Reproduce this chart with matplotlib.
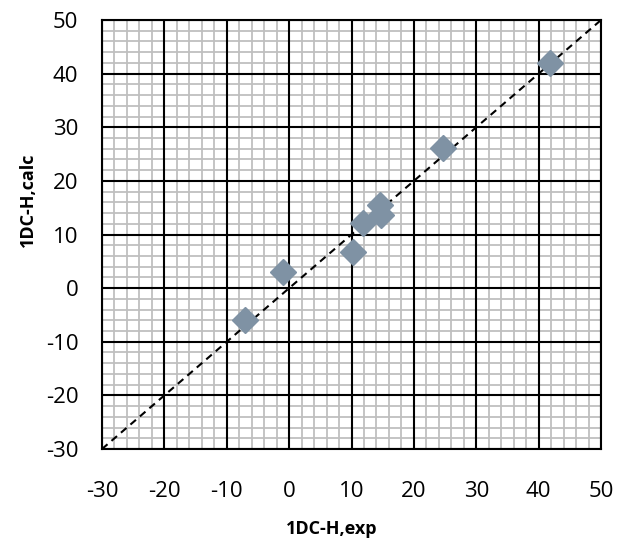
import matplotlib.pyplot as plt
import numpy as np

plt.rcParams['font.family'] = ['Open Sans', 'DejaVu Sans']
plt.rcParams['axes.unicode_minus'] = False

# 実験値と計算値
exp_vals = [41.9, 24.7, 14.5, 14.8, 11.9, 10.2, -1.0, -7.1]
calc_vals = [41.9, 26.2, 15.5, 13.7, 12.2, 6.7, 3.0, -6.0]
ticks = list(range(-30, 51, 10))
minor = [v for v in range(-30, 51, 2) if v % 10 != 0]

fig = plt.figure(figsize=(6.17, 5.43), dpi=100)
ax = fig.add_axes([0.1653, 0.1731, 0.8088, 0.790])

ax.set_xlim(-30, 50)
ax.set_ylim(-30, 50)
ax.set_xticks(ticks)
ax.set_yticks(ticks)

# グリッド（細い灰色→太い黒の順に描く）
ax.vlines(minor, -30, 50, color='#bfbfbf', linewidth=1.3, zorder=0.5)
ax.hlines(minor, -30, 50, color='#bfbfbf', linewidth=1.3, zorder=0.5)
ax.vlines(ticks, -30, 50, color='black', linewidth=1.5, zorder=1)
ax.hlines(ticks, -30, 50, color='black', linewidth=1.5, zorder=1)

ax.tick_params(which='both', length=0, labelsize=16)
ax.tick_params(axis='y', pad=17)
ax.tick_params(axis='x', pad=23)
for s in ax.spines.values():
    s.set_color('black')
    s.set_linewidth(1.5)

# y=x の基準線
ax.plot([-30, 50], [-30, 50], color='black', linestyle=(0, (3.5, 2.5)), linewidth=1.5, zorder=2)
ax.plot(exp_vals, calc_vals, linestyle='none', marker='D', markersize=13,
        color='#7f92a4', zorder=3)

fig.text(332 / 617, (543 - 529) / 543, '1DC-H,exp', fontsize=13, fontweight='bold',
         ha='center', va='center')
fig.text(28 / 617, (543 - 200) / 543, '1DC-H,calc', fontsize=13, fontweight='bold',
         ha='center', va='center', rotation=90)

fig.savefig('out.png', dpi=100)
